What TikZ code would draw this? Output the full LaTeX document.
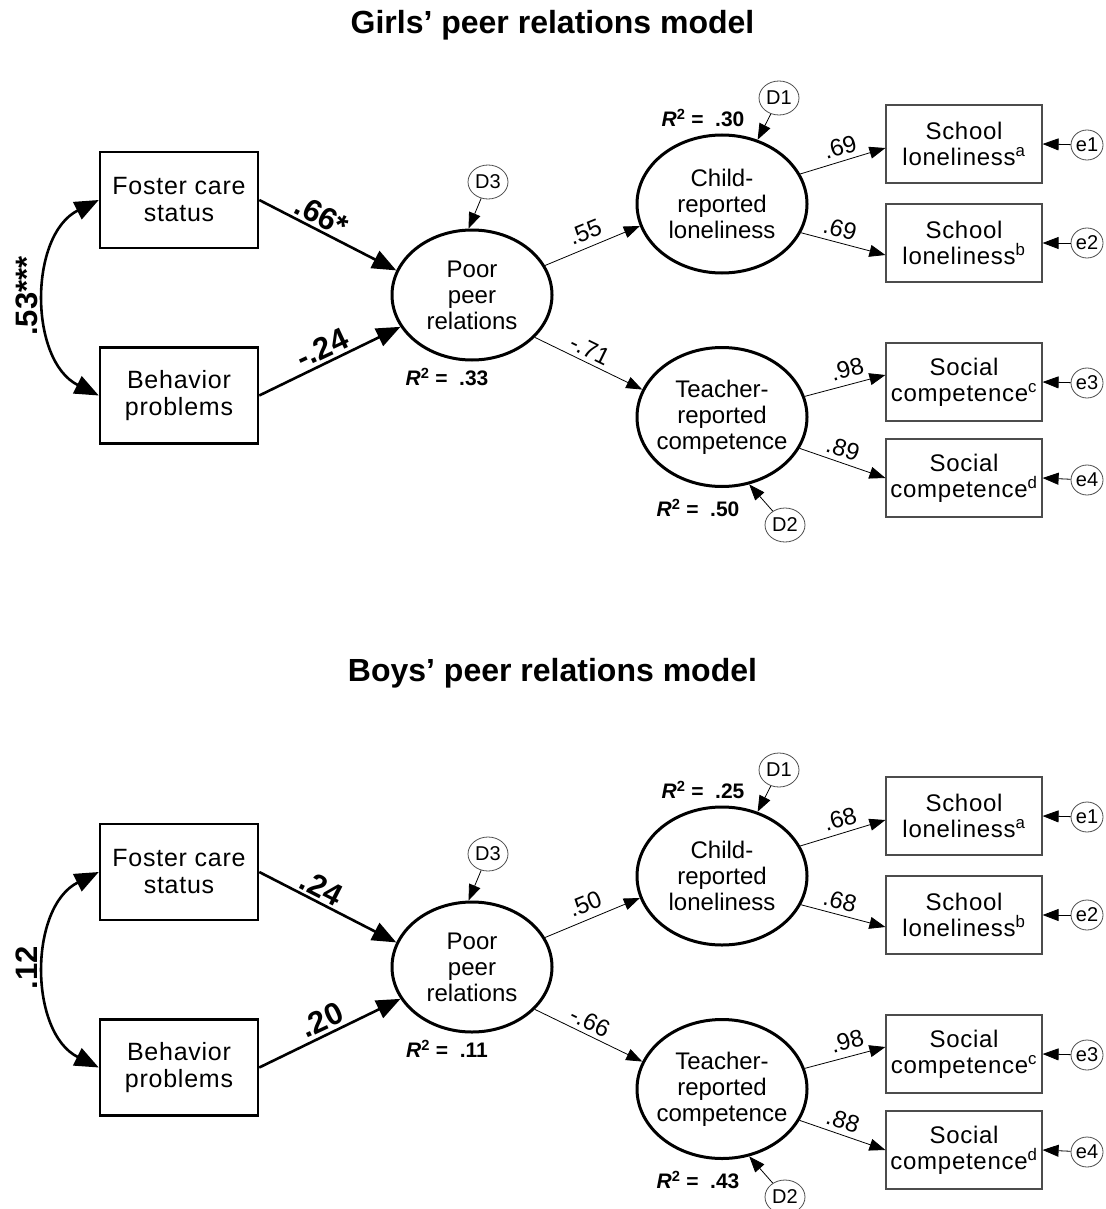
\documentclass[tikz,border=0pt]{standalone}
\usepackage{fontspec}
\setmainfont{Liberation Sans}
\newfontfamily\spacedfont[LetterSpace=3]{Liberation Sans}
\usetikzlibrary{shapes.geometric,arrows.meta}
\begin{document}
\begin{tikzpicture}[x=1pt,y=-1pt,
 title/.style={font=\bfseries\fontsize{32}{36}\selectfont},
 obs/.style={draw, line width=2.5pt, minimum width=158pt, minimum height=96pt, align=center, font=\spacedfont\fontsize{25}{27}\selectfont, inner sep=0pt},
 ind/.style={draw=black!70, line width=1.2pt, minimum width=156pt, minimum height=78pt, align=center, font=\spacedfont\fontsize{24}{26}\selectfont, inner sep=0pt},
 lat/.style={ellipse, draw, line width=3pt, inner sep=-12pt, align=center, font=\fontsize{24}{26}\selectfont},
 err/.style={ellipse, draw=black!70, line width=0.8pt, inner sep=0pt, font=\fontsize{20}{20}\selectfont},
 dist/.style={err, minimum width=40pt, minimum height=34pt},
 resid/.style={err, minimum width=32pt, minimum height=30pt},
 bigarr/.style={line width=2.6pt, -{Triangle[length=24pt,width=19pt]}},
 curv/.style={line width=2.6pt, {Triangle[length=24pt,width=19pt]}-{Triangle[length=24pt,width=19pt]}},
 thinarr/.style={line width=0.8pt, -{Triangle[length=16pt,width=12pt]}},
 coefbig/.style={font=\bfseries\fontsize{31}{31}\selectfont, inner sep=1pt},
 coef/.style={font=\fontsize{24}{24}\selectfont, inner sep=1pt},
 rsq/.style={font=\bfseries\fontsize{21}{21}\selectfont, inner sep=1pt}]
\useasboundingbox (0,0) rectangle (1105,1209);
\node[title] (gtitle) at (552.5,25) {Girls’ peer relations model};
\node[title] (btitle) at (552.5,673) {Boys’ peer relations model};
\foreach \p/\dy/\wa/\wb/\wc/\la/\lb/\ma/\mb/\mc/\md/\ra/\rb/\rc in
 {g/0/.66*/-.24/.53***/.55/-.71/.69/.69/.98/.89/.33/.30/.50,
  b/672/.24/.20/.12/.50/-.66/.68/.68/.98/.88/.11/.25/.43}{
\begin{scope}[shift={(0,\dy)}]
\node[obs] (\p fc) at (179,200) {Foster care\\status};
\node[obs] (\p bp) at (179,395.5) {Behavior\\problems};
\node[lat, minimum width=160pt, minimum height=130pt] (\p pp) at (472,295) {Poor\\peer\\relations};
\node[lat, minimum width=170pt, minimum height=138pt] (\p cr) at (722,204) {Child-\\reported\\loneliness};
\node[lat, minimum width=170pt, minimum height=139pt] (\p tr) at (722,417) {Teacher-\\reported\\competence};
\node[ind] (\p sa) at (964,144) {School\\loneliness\textsuperscript{a}};
\node[ind] (\p sb) at (964,243) {School\\loneliness\textsuperscript{b}};
\node[ind] (\p sc) at (964,382) {Social\\competence\textsuperscript{c}};
\node[ind] (\p sd) at (964,478) {Social\\competence\textsuperscript{d}};
\node[resid] (\p e1) at (1087,145) {e1};
\node[resid] (\p e2) at (1087,243) {e2};
\node[resid] (\p e3) at (1087,383) {e3};
\node[resid] (\p e4) at (1087,480) {e4};
\node[dist] (\p d1) at (779,98) {D1};
\node[dist] (\p d2) at (785,525) {D2};
\node[dist] (\p d3) at (488,182) {D3};
\draw[curv] (\p fc.west) .. controls +(-70,35) and +(-70,-35) .. (\p bp.west);
\draw[bigarr] (\p fc.east) -- (\p pp.162);
\draw[bigarr] (\p bp.east) -- (\p pp.204);
\draw[thinarr] (\p pp.22) -- (\p cr.195);
\draw[thinarr] (\p pp.326) -- (\p tr.161);
\draw[thinarr] (\p cr.21) -- ([yshift=-4pt]\p sa.west);
\draw[thinarr] (\p cr.340) -- ([yshift=-12pt]\p sb.west);
\draw[thinarr] (\p tr.14) -- ([yshift=7pt]\p sc.west);
\draw[thinarr] (\p tr.338) -- (\p sd.west);
\draw[thinarr] (\p e1) -- (\p sa.east);
\draw[thinarr] (\p e2) -- (\p sb.east);
\draw[thinarr] (\p e3) -- (\p sc.east);
\draw[thinarr] (\p e4) -- (\p sd.east);
\draw[thinarr] (\p d1) -- (\p cr.61);
\draw[thinarr] (\p d2) -- (\p tr.292);
\draw[thinarr] (\p d3) -- (\p pp.93);
\node[coefbig, rotate=90] (\p lwc) at (27,296) {\wc};
\node[coefbig, rotate=-27] (\p lwa) at (322,216) {\wa};
\node[coefbig, rotate=25] (\p lwb) at (322,348) {\wb};
\node[coef, rotate=22] (\p lla) at (585,232) {\la};
\node[coef, rotate=-26] (\p llb) at (590,350) {\lb};
\node[coef, rotate=16] (\p lma) at (840,147) {\ma};
\node[coef, rotate=-15] (\p lmb) at (840,229) {\mb};
\node[coef, rotate=15] (\p lmc) at (847,369) {\mc};
\node[coef, rotate=-18] (\p lmd) at (843,449) {\md};
\node[rsq] (\p rpp) at (447,377) {\textit{R}\textsuperscript{2} =\ \ \ra};
\node[rsq] (\p rcr) at (703,118) {\textit{R}\textsuperscript{2} =\ \ \rb};
\node[rsq] (\p rtr) at (698,508) {\textit{R}\textsuperscript{2} =\ \ \rc};
\end{scope}}
\end{tikzpicture}
\end{document}
